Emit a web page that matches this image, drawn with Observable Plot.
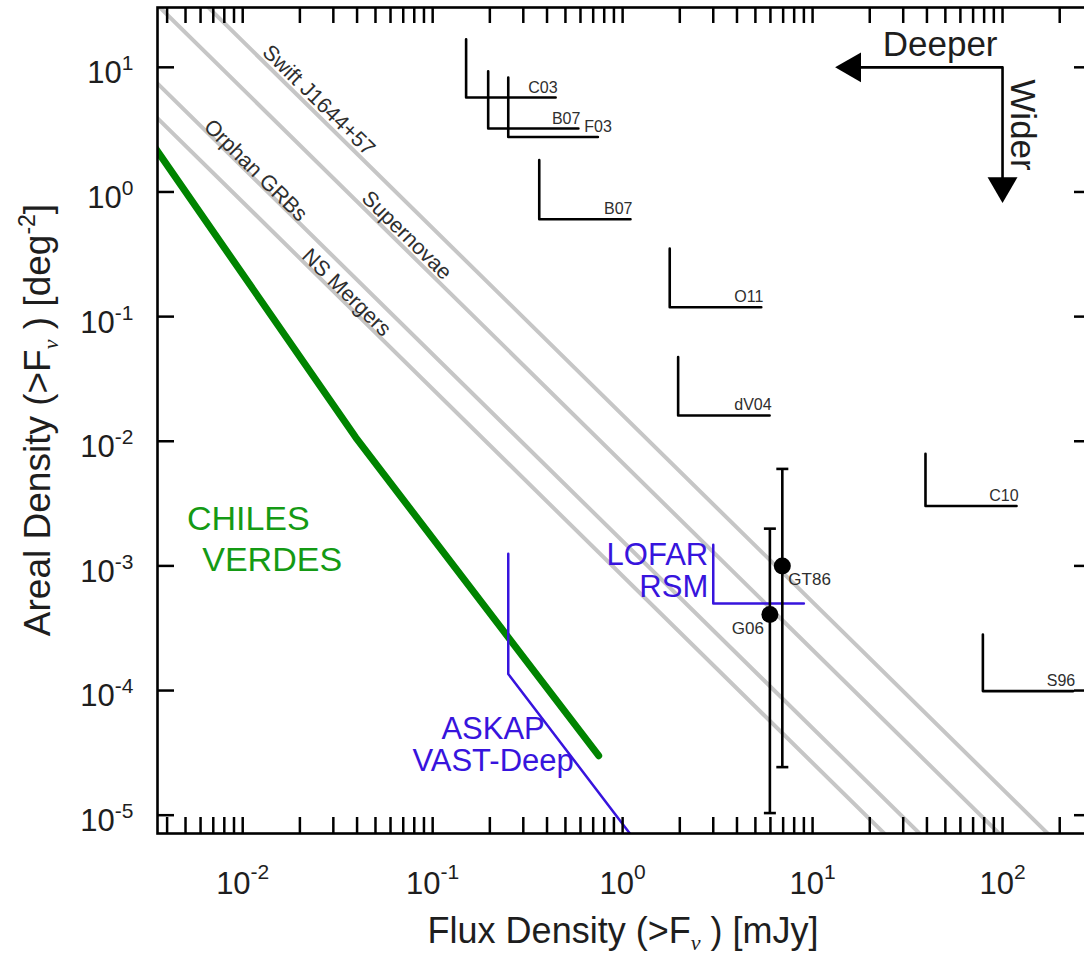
<!DOCTYPE html>
<html>
<head>
<meta charset="utf-8">
<script src="https://cdn.jsdelivr.net/npm/d3@7"></script>
<script src="https://cdn.jsdelivr.net/npm/@observablehq/plot@0.6"></script>
<style>
  html, body { margin: 0; padding: 0; background: #fff; overflow: hidden; }
  #chart { width: 1084px; height: 956px; overflow: hidden; }
  #chart svg { max-width: none !important; height: 956px !important; }
</style>
</head>
<body>
<div id="chart"></div>
<script>
// Radio transient surveys: areal density vs. flux-density limit

// Euclidean source-count lines, N(>S) ∝ S^-1.5, one per transient class (values at S = 0.003 and 300 mJy)
const classNames = ["NS Mergers", "Orphan GRBs", "Supernovae", "Swift J1644+57"];
const classFluxEnds = [0.003, 300];
const classDensityLow = [5.05, 9.6, 40.8, 98.6];
const classDensityHigh = [1.6e-7, 3.04e-7, 1.29e-6, 3.12e-6];
const classLabelFlux = [0.0352, 0.0117, 0.073, 0.0251];
const classLabelDensity = [0.156, 1.49, 0.449, 5.44];

// CHILES VERDES sensitivity curve
const chilesFlux = [0.00348, 0.0394, 0.748];
const chilesDensity = [2.23, 0.0107, 3.0e-5];

// ASKAP VAST-Deep and LOFAR RSM
const askapFlux = [0.25, 0.25, 1.2];
const askapDensity = [1.25e-3, 1.36e-4, 5.9e-6];
const lofarFlux = [3.0, 3.0, 9.0];
const lofarDensity = [1.48e-3, 5.0e-4, 5.0e-4];

// Previous surveys: corner (flux limit, density), end of the flux arm, top of the density arm
const surveyNames = ["C03", "B07", "F03", "B07", "O11", "dV04", "C10", "S96"];
const surveyFlux = [0.15, 0.196, 0.25, 0.364, 1.77, 1.96, 39.3, 78.8];
const surveyFluxEnd = [0.444, 0.585, 0.741, 1.10, 5.37, 5.94, 118.5, 235.5];
const surveyDensity = [5.72, 3.23, 2.76, 0.604, 0.119, 0.0161, 3.02e-3, 9.9e-5];
const surveyDensityTop = [16.8, 9.3, 8.28, 1.80, 0.351, 0.0474, 7.95e-3, 2.82e-4];

// Detections with error bars
const detectNames = ["G06", "GT86"];
const detectFlux = [5.96, 6.93];
const detectDensity = [4.08e-4, 1.0e-3];
const detectLow = [1.04e-5, 2.43e-5];
const detectHigh = [1.99e-3, 6.0e-3];

// "Deeper" / "Wider" guide: left head, corner, lower head
const guideFlux = [16.2, 100, 100];
const guideDensity = [10, 10, 1.12];
const guideHeadAngle = [-90, null, 180];

// Axis decades
const xDecades = [1e-2, 1e-1, 1, 10, 100];
const yDecades = [1e-5, 1e-4, 1e-3, 1e-2, 1e-1, 1, 10];

const xDomain = [0.00356, 294];
const yDomain = [7.13e-6, 30.2];

const W = 1092, H = 956;
const mL = 157, mR = 1, mT = 7, mB = 123;
const frameW = W - mL - mR;
const frameH = H - mT - mB;

const FONT = "'Liberation Sans', Arial, Helvetica, sans-serif";
const INK = "#1e1e1e";
const GRAY_TXT = "#2e2e2e";
const BLUE = "#3714dd";
const GREEN = "#008400";
const GREEN_TXT = "#149a14";

// ----- tables built from the arrays -----
const classLines = classNames.flatMap((name, i) => [
  {id: name, flux: classFluxEnds[0], density: classDensityLow[i]},
  {id: name, flux: classFluxEnds[1], density: classDensityHigh[i]}
]);
const classLabels = classNames.map((name, i) => ({name, flux: classLabelFlux[i], density: classLabelDensity[i]}));
const chiles = chilesFlux.map((f, i) => ({flux: f, density: chilesDensity[i]}));
const askap = askapFlux.map((f, i) => ({flux: f, density: askapDensity[i]}));
const lofar = lofarFlux.map((f, i) => ({flux: f, density: lofarDensity[i]}));
const surveyLines = surveyNames.flatMap((name, i) => [
  {id: i, flux: surveyFlux[i], density: surveyDensityTop[i]},
  {id: i, flux: surveyFlux[i], density: surveyDensity[i]},
  {id: i, flux: surveyFluxEnd[i], density: surveyDensity[i]}
]);
const surveyLabels = surveyNames.map((name, i) => ({name, flux: surveyFluxEnd[i], density: surveyDensity[i]}));
const detections = detectNames.map((name, i) => ({
  name, flux: detectFlux[i], density: detectDensity[i], low: detectLow[i], high: detectHigh[i]
}));
const caps = detections.flatMap(d => [{flux: d.flux, density: d.low}, {flux: d.flux, density: d.high}]);
const guide = guideFlux.map((f, i) => ({flux: f, density: guideDensity[i], angle: guideHeadAngle[i]}));
const guideHeads = guide.filter(d => d.angle != null);
const guideCorner = [guide[1]];

const allXTicks = d3.scaleLog().domain(xDomain).ticks();

// horizontal bar used as an error-bar cap
const capSymbol = {
  draw(context, size) {
    const w = Math.sqrt(size / Math.PI);
    context.moveTo(-w, 0);
    context.lineTo(w, 0);
  }
};

const expFormat = d => `10|${Math.round(Math.log10(d))}`;

const chart = Plot.plot({
  width: W,
  height: H,
  marginLeft: mL,
  marginRight: mR,
  marginTop: mT,
  marginBottom: mB,
  style: {fontFamily: FONT, background: "#fff", color: INK, maxWidth: "none"},
  x: {type: "log", domain: xDomain},
  y: {type: "log", domain: yDomain},
  marks: [
    // transient class lines
    Plot.line(classLines, {x: "flux", y: "density", z: "id", stroke: "#c6c6c6", strokeWidth: 4, clip: true}),
    Plot.text(classLabels, {
      x: "flux", y: "density", text: "name", rotate: 44.5,
      fontSize: 21.5, fill: GRAY_TXT, fontFamily: FONT
    }),

    // CHILES VERDES
    Plot.line(chiles, {x: "flux", y: "density", stroke: GREEN, strokeWidth: 7, clip: true}),
    Plot.text(["CHILES"], {x: 0.0107, y: 1.93e-3, text: d => d, fontSize: 34, fill: GREEN_TXT, lineAnchor: "bottom", fontFamily: FONT}),
    Plot.text(["VERDES"], {x: 0.01429, y: 9.03e-4, text: d => d, fontSize: 34, fill: GREEN_TXT, lineAnchor: "bottom", fontFamily: FONT}),

    // ASKAP VAST-Deep
    Plot.line(askap, {x: "flux", y: "density", stroke: BLUE, strokeWidth: 2.5, clip: true}),
    Plot.text(["ASKAP\nVAST-Deep"], {
      x: 0.208, y: 2.28e-5, text: d => d, fontSize: 31, lineHeight: 1.03,
      fill: BLUE, lineAnchor: "bottom", fontFamily: FONT
    }),

    // LOFAR RSM
    Plot.line(lofar, {x: "flux", y: "density", stroke: BLUE, strokeWidth: 2.5}),
    Plot.text(["LOFAR\nRSM"], {
      x: lofarFlux[0], y: 5.6e-4, text: d => d, fontSize: 31, lineHeight: 1.03,
      fill: BLUE, lineAnchor: "bottom", textAnchor: "end", dx: -5, fontFamily: FONT
    }),

    // previous surveys
    Plot.line(surveyLines, {x: "flux", y: "density", z: "id", stroke: "#000", strokeWidth: 2.6}),
    Plot.text(surveyLabels.filter(d => d.name !== "F03"), {
      x: "flux", y: "density", text: "name", textAnchor: "end", lineAnchor: "bottom",
      dx: 2, dy: -5, fontSize: 16, fill: GRAY_TXT, fontFamily: FONT
    }),
    Plot.text(surveyLabels.filter(d => d.name === "F03"), {
      x: "flux", y: "density", text: "name", textAnchor: "end", lineAnchor: "bottom",
      dx: 14, dy: -5, fontSize: 16, fill: GRAY_TXT, fontFamily: FONT
    }),

    // detections with error bars
    Plot.ruleX(detections, {x: "flux", y1: "low", y2: "high", stroke: "#000", strokeWidth: 2.6}),
    Plot.dot(caps, {x: "flux", y: "density", symbol: capSymbol, r: 6, stroke: "#000", fill: "none", strokeWidth: 2.6}),
    Plot.dot(detections, {x: "flux", y: "density", r: 8.5, fill: "#000", stroke: null}),
    Plot.text(detections.filter(d => d.name === "GT86"), {
      x: "flux", y: "density", text: "name", textAnchor: "start", lineAnchor: "bottom",
      dx: 6, dy: 19, fontSize: 17, fill: GRAY_TXT, fontFamily: FONT
    }),
    Plot.text(detections.filter(d => d.name === "G06"), {
      x: "flux", y: "density", text: "name", textAnchor: "end", lineAnchor: "bottom",
      dx: -6, dy: 20, fontSize: 17, fill: GRAY_TXT, fontFamily: FONT
    }),

    // Deeper / Wider guide
    Plot.line(guide, {x: "flux", y: "density", stroke: "#000", strokeWidth: 2.6}),
    Plot.dot(guideHeads, {x: "flux", y: "density", rotate: "angle", symbol: "triangle", r: 11.1, fill: "#000", stroke: null}),
    Plot.text(guideCorner, {
      x: "flux", y: "density", text: () => "Deeper", textAnchor: "end", lineAnchor: "bottom",
      dx: -5, dy: -11, fontSize: 35, fill: INK, fontFamily: FONT
    }),
    Plot.text(guideCorner, {
      x: "flux", y: "density", text: () => "Wider", textAnchor: "start", lineAnchor: "bottom",
      rotate: 90, dx: 8, dy: 12, fontSize: 35, fill: INK, fontFamily: FONT
    }),

    // inward ticks on all four sides
    Plot.tickX(allXTicks, {x: d => d, insetTop: frameH - 16, stroke: "#000", strokeWidth: 2.5}),
    Plot.tickX(allXTicks, {x: d => d, insetBottom: frameH - 16, stroke: "#000", strokeWidth: 2.5}),
    Plot.tickY(yDecades, {y: d => d, insetRight: frameW - 17, stroke: "#000", strokeWidth: 2.5}),
    Plot.tickY(yDecades, {y: d => d, insetLeft: frameW - 17, stroke: "#000", strokeWidth: 2.5}),

    // tick labels
    Plot.axisX({ticks: xDecades, tickSize: 0, tickPadding: 38.7, tickFormat: expFormat, fontSize: 31, label: null, fill: INK}),
    Plot.axisY({ticks: yDecades, tickSize: 0, tickPadding: 24, tickFormat: expFormat, fontSize: 31, dy: 6, label: null, fill: INK}),

    Plot.frame({stroke: "#000", strokeWidth: 2.6})
  ]
});
chart.style.maxWidth = "none";
chart.setAttribute("width", W);
chart.setAttribute("height", H);

// split "10|k" tick labels into base and superscript exponent
d3.select(chart).selectAll("g[aria-label$='tick label'] text").each(function () {
  const raw = this.textContent;
  if (!raw.includes("|")) return;
  const [base, exp] = raw.split("|");
  const isX = this.parentNode.getAttribute("aria-label").startsWith("x");
  const t = d3.select(this).text("");
  t.append("tspan").text(base);
  t.append("tspan").attr("font-size", 21).attr("dy", isX ? -15 : -13).text(exp);
});

// axis titles with subscript ν and superscript exponent
const svg = d3.select(chart);
const xTitle = svg.append("text")
  .attr("x", 623).attr("y", 943)
  .attr("text-anchor", "middle").attr("font-size", 36).attr("fill", INK).attr("font-family", FONT);
xTitle.append("tspan").text("Flux Density (>F");
xTitle.append("tspan").attr("font-size", 22).attr("font-style", "italic").attr("font-family", "'Liberation Serif', serif").attr("dy", 7).text("ν");
xTitle.append("tspan").attr("dy", -7).text("\u00a0) [mJy]");

const yTitle = svg.append("text")
  .attr("transform", `translate(50,420) rotate(-90)`)
  .attr("text-anchor", "middle").attr("font-size", 37).attr("fill", INK).attr("font-family", FONT);
yTitle.append("tspan").text("Areal Density (>F");
yTitle.append("tspan").attr("font-size", 22).attr("font-style", "italic").attr("font-family", "'Liberation Serif', serif").attr("dy", 8).text("ν");
yTitle.append("tspan").attr("dy", -8).text("\u00a0) [deg");
yTitle.append("tspan").attr("font-size", 23).attr("dy", -15).text("-2");
yTitle.append("tspan").attr("dy", 15).text("]");

document.getElementById("chart").appendChild(chart);
</script>
</body>
</html>
